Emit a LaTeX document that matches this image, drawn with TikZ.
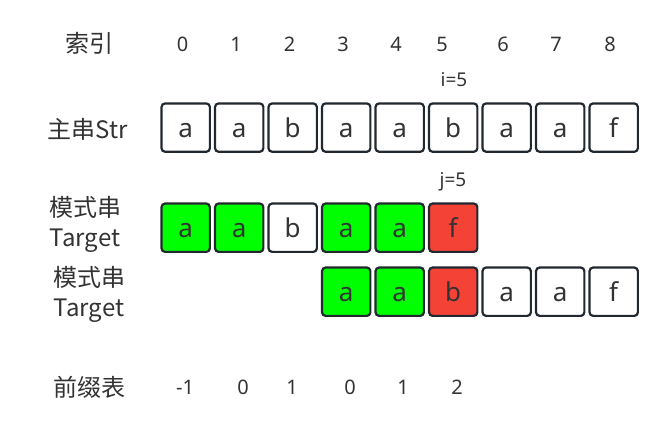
\documentclass[tikz,border=0pt]{standalone}
\usepackage{fontspec}
\setmainfont{Noto Sans}
\newfontfamily\cjk{Noto Sans CJK SC}
\definecolor{txt}{HTML}{333333}
\definecolor{bd}{HTML}{222830}
\definecolor{gr}{HTML}{00FF00}
\definecolor{rd}{HTML}{F44336}
\begin{document}
\begin{tikzpicture}[x=1pt,y=-1pt,
  cell/.style={draw=bd, line width=2.2pt, rounded corners=3.5pt, minimum width=48.3pt, minimum height=48.3pt,
    inner sep=0pt, text=txt, font=\fontsize{26}{26}\selectfont, text height=19pt, text depth=0pt, fill=white},
  ok/.style={cell, fill=gr},
  bad/.style={cell, fill=rd},
  lab/.style={anchor=base, text=txt, font=\cjk\fontsize{24}{30}\selectfont, inner sep=0pt, align=center},
  num/.style={anchor=base, text=txt, font=\fontsize{20}{20}\selectfont, inner sep=0pt},
  ptr/.style={anchor=base, text=txt, font=\fontsize{19}{19}\selectfont, inner sep=0pt}]
\useasboundingbox (0,0) rectangle (664,432);
% row labels
\node[lab] (lidx) at (89,52) {索引};
\node[lab] (lstr) at (88,138) {主串Str};
\node[lab, anchor=base] (lt1a) at (85,216) {模式串};
\node[lab] (lt1b) at (85,246.5) {Target};
\node[lab] (lt2a) at (89,286) {模式串};
\node[lab] (lt2b) at (89,316.5) {Target};
\node[lab] (lpre) at (89,396) {前缀表};
% index numbers
\foreach \v/\x [count=\i] in {0/182.5,1/236,2/289.5,3/343,4/396,5/442,6/503,7/556,8/610}
  \node[num] (idx\i) at (\x,51.7) {\v};
% pointers
\node[ptr] (pi) at (454,86.7) {i=5};
\node[ptr] (pj) at (453,186.7) {j=5};
% main string
\foreach \c/\s [count=\i from 0] in {a/cell,a/cell,b/cell,a/cell,a/cell,b/cell,a/cell,a/cell,f/cell}
  \node[\s] (s\i) at ({185.7+53.5*\i},127.6) {\c};
% target 1
\foreach \c/\s [count=\i from 0] in {a/ok,a/ok,b/cell,a/ok,a/ok,f/bad}
  \node[\s] (t\i) at ({185.7+53.5*\i},227.7) {\c};
% target 2
\foreach \c/\s [count=\i from 3] in {a/ok,a/ok,b/bad,a/cell,a/cell,f/cell}
  \node[\s] (u\i) at ({185.7+53.5*\i},291.7) {\c};
% prefix table
\foreach \v/\x [count=\i] in {-1/185,0/243,1/292,0/350,1/403,2/457}
  \node[num] (p\i) at (\x,394) {\v};
\end{tikzpicture}
\end{document}
